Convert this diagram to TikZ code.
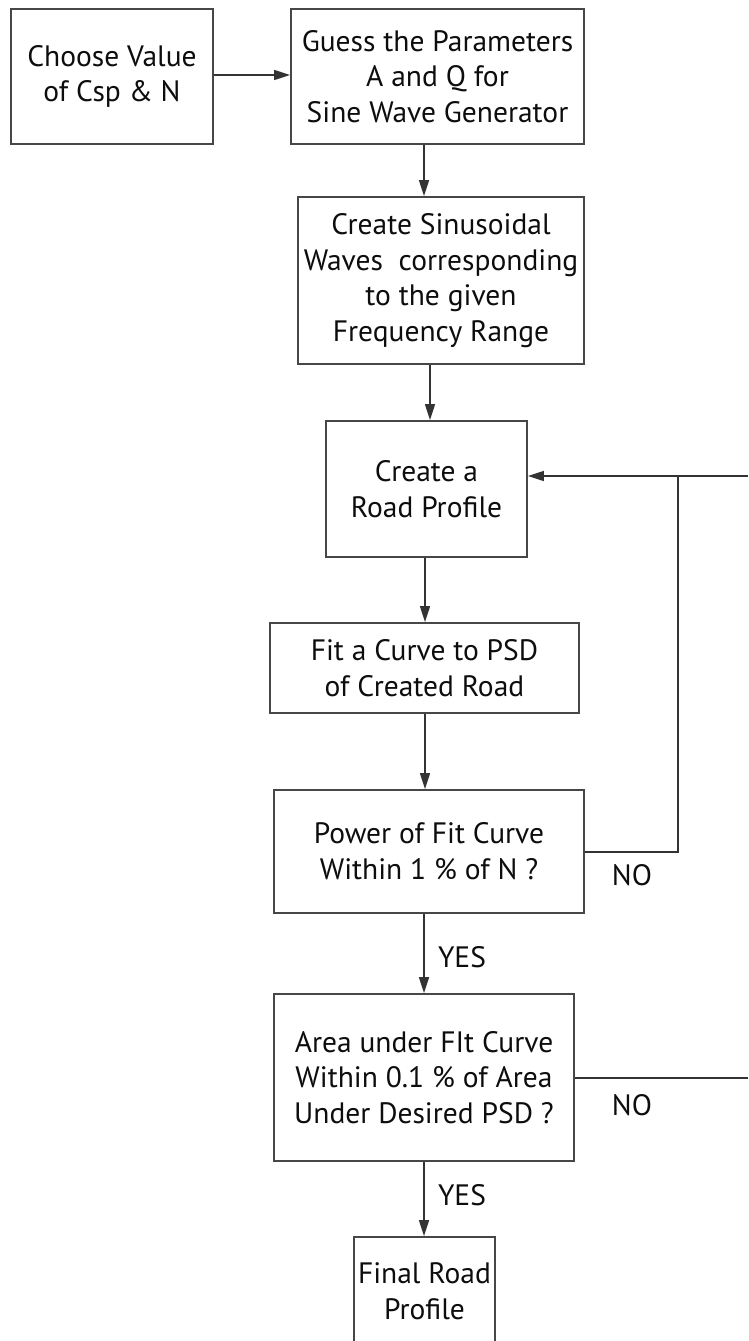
\documentclass[tikz,border=0pt]{standalone}
\usepackage{fontspec}
\setmainfont{PT Sans}
\usetikzlibrary{arrows.meta}
\begin{document}
\begin{tikzpicture}[x=1pt,y=-1pt,
  boxnode/.style={draw=black!72, line width=1.8pt, align=center, inner sep=0pt,
    font=\fontsize{29.5}{35.7}\selectfont, text=black!95},
  conn/.style={draw=black!80, line width=1.4pt},
  arr/.style={conn, -{Triangle[length=16pt,width=10pt]}},
  lbl/.style={font=\fontsize{29.5}{35.7}\selectfont, text=black!95, inner sep=0pt}]
\useasboundingbox (0,0) rectangle (748,1341);
\node[boxnode, minimum width=202pt, minimum height=135pt] (b1) at (112,76.5) {Choose Value\\of Csp \& N};
\node[boxnode, minimum width=293pt, minimum height=135pt] (b2) at (437.5,76.5) {Guess the Parameters\\A and Q for\\Sine Wave Generator};
\node[boxnode, minimum width=286pt, minimum height=167pt] (b3) at (441,280.5) {Create Sinusoidal\\Waves\ \ corresponding\\to the given\\Frequency Range};
\node[boxnode, minimum width=201pt, minimum height=136pt] (b4) at (426.5,489) {Create a\\Road Profile};
\node[boxnode, minimum width=309pt, minimum height=90pt] (b5) at (424.5,668) {Fit a Curve to PSD\\of Created Road};
\node[boxnode, minimum width=310pt, minimum height=123pt] (b6) at (429,851.5) {Power of Fit Curve\\Within 1 \% of N ?};
\node[boxnode, minimum width=300pt, minimum height=167pt] (b7) at (424,1077.5) {Area under FIt Curve\\Within 0.1 \% of Area\\Under Desired PSD ?};
\node[boxnode, minimum width=141pt, minimum height=108pt] (b8) at (424.5,1291) {Final Road\\Profile};

\coordinate (c1) at (424,0);
\coordinate (c2) at (430,0);
\coordinate (c3) at (425,0);
\coordinate (r1) at (748,476);
\coordinate (j1) at (678,476);
\coordinate (j2) at (678,852);
\coordinate (r2) at (748,1078);

\draw[arr] (b1.east |- 0,75) -- (b2.west |- 0,75);
\draw[arr] (b2.south -| c1) -- (b3.north -| c1);
\draw[arr] (b3.south -| c2) -- (b4.north -| c2);
\draw[arr] (b4.south -| c3) -- (b5.north -| c3);
\draw[arr] (b5.south -| c3) -- (b6.north -| c3);
\draw[arr] (b6.south -| c1) -- (b7.north -| c1);
\draw[arr] (b7.south -| c1) -- (b8.north -| c1);

\draw[arr] (r1) -- (b4.east |- r1);
\draw[conn] (b6.east |- j2) -- (j2) -- (j1);
\draw[conn] (b7.east |- r2) -- (r2);

\node[lbl] (yes1) at (462,957) {YES};
\node[lbl] (no1) at (632,875) {NO};
\node[lbl] (no2) at (632,1105) {NO};
\node[lbl] (yes2) at (462,1195) {YES};
\end{tikzpicture}
\end{document}
